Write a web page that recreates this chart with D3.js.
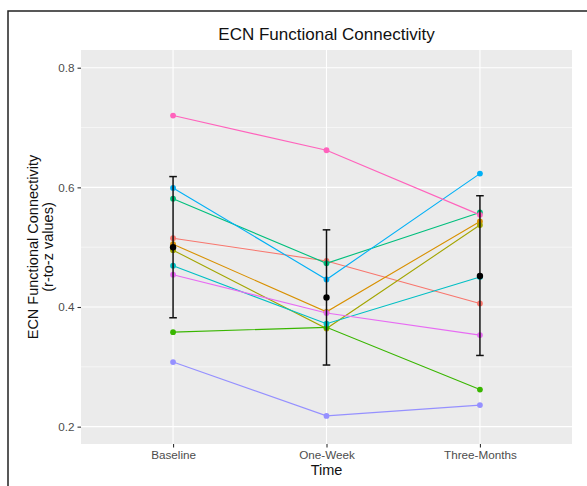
<!DOCTYPE html>
<html>
<head>
<meta charset="utf-8">
<script src="https://cdn.jsdelivr.net/npm/d3@7"></script>
<style>
  html, body { margin: 0; background: #fff; overflow: hidden; }
  svg { display: block; font-family: "Liberation Sans", Arial, sans-serif; }
</style>
</head>
<body>
<div id="chart"></div>
<script>
// timepoints on the x axis
var times = ["Baseline", "One-Week", "Three-Months"];

// one row per subject, values at Baseline / One-Week / Three-Months
var subjects = ["s1", "s2", "s3", "s4", "s5", "s6", "s7", "s8", "s9", "s10"];
var subjectColors = ["#F8766D", "#D89000", "#A3A500", "#39B600", "#00BF7D",
                     "#00BFC4", "#00B0F6", "#9590FF", "#E76BF3", "#FF62BC"];
var s1 = [0.515, 0.477, 0.406];
var s2 = [0.505, 0.392, 0.543];
var s3 = [0.495, 0.364, 0.537];
var s4 = [0.358, 0.366, 0.262];
var s5 = [0.581, 0.473, 0.558];
var s6 = [0.469, 0.372, 0.450];
var s7 = [0.599, 0.446, 0.623];
var s8 = [0.308, 0.218, 0.236];
var s9 = [0.454, 0.390, 0.353];
var s10 = [0.720, 0.662, 0.554];
var subjectValues = [s1, s2, s3, s4, s5, s6, s7, s8, s9, s10];

// group mean and error bar ends
var meanValues = [0.500, 0.416, 0.452];
var errLow = [0.382, 0.303, 0.319];
var errHigh = [0.618, 0.529, 0.586];

var yTicks = [0.2, 0.4, 0.6, 0.8];
var yMinor = [0.3, 0.5, 0.7];

var W = 587, H = 486;
var panel = { left: 81, right: 572, top: 50, bottom: 444 };

var svg = d3.select("#chart").append("svg")
  .attr("width", W)
  .attr("height", H);

// outer frame of the figure (only top and left edges are inside the view)
svg.append("path")
  .attr("d", "M8," + H + "V11H" + W)
  .attr("fill", "none")
  .attr("stroke", "#222")
  .attr("stroke-width", 1.5);

// scales: discrete x with ggplot-style 0.6 expansion
var step = (panel.right - panel.left) / (times.length - 1 + 1.2);
var x = d3.scalePoint()
  .domain(times)
  .range([panel.left + 0.6 * step, panel.right - 0.6 * step]);
var y = d3.scaleLinear()
  .domain([0.171, 0.8296])
  .range([panel.bottom, panel.top]);

// panel background
svg.append("rect")
  .attr("x", panel.left).attr("y", panel.top)
  .attr("width", panel.right - panel.left)
  .attr("height", panel.bottom - panel.top)
  .attr("fill", "#EBEBEB");

// grid
svg.append("g").selectAll("line").data(yMinor).enter().append("line")
  .attr("x1", panel.left).attr("x2", panel.right)
  .attr("y1", function (d) { return y(d); })
  .attr("y2", function (d) { return y(d); })
  .attr("stroke", "#fff").attr("stroke-width", 0.55);
svg.append("g").selectAll("line").data(yTicks).enter().append("line")
  .attr("x1", panel.left).attr("x2", panel.right)
  .attr("y1", function (d) { return y(d); })
  .attr("y2", function (d) { return y(d); })
  .attr("stroke", "#fff").attr("stroke-width", 1.1);
svg.append("g").selectAll("line").data(times).enter().append("line")
  .attr("x1", function (d) { return x(d); })
  .attr("x2", function (d) { return x(d); })
  .attr("y1", panel.top).attr("y2", panel.bottom)
  .attr("stroke", "#fff").attr("stroke-width", 1.1);

// axes
var yAxis = svg.append("g")
  .attr("transform", "translate(" + panel.left + ",0)")
  .call(d3.axisLeft(y).tickValues(yTicks).tickFormat(d3.format(".1f")).tickSize(3.5).tickPadding(3));
var xAxis = svg.append("g")
  .attr("transform", "translate(0," + panel.bottom + ")")
  .call(d3.axisBottom(x).tickSize(3.5).tickPadding(3));
[yAxis, xAxis].forEach(function (a) {
  a.select(".domain").remove();
  a.selectAll(".tick line").attr("stroke", "#333").attr("stroke-width", 1.1);
  a.selectAll(".tick text")
    .attr("fill", "#4D4D4D")
    .style("font-size", "11.7px")
    .style("font-family", "Liberation Sans, Arial, sans-serif");
});

// subject lines
var line = d3.line()
  .x(function (d, i) { return x(times[i]); })
  .y(function (d) { return y(d); });

svg.append("g").selectAll("path").data(subjectValues).enter().append("path")
  .attr("d", line)
  .attr("fill", "none")
  .attr("stroke", function (d, i) { return subjectColors[i]; })
  .attr("stroke-width", 1.1);

// subject points
subjectValues.forEach(function (vals, i) {
  svg.append("g").selectAll("circle").data(vals).enter().append("circle")
    .attr("cx", function (d, j) { return x(times[j]); })
    .attr("cy", function (d) { return y(d); })
    .attr("r", 2.9)
    .attr("fill", subjectColors[i]);
});

// error bars
var eb = svg.append("g").attr("stroke", "#111").attr("stroke-width", 1.5);
times.forEach(function (t, i) {
  eb.append("line")
    .attr("x1", x(t)).attr("x2", x(t))
    .attr("y1", y(errLow[i])).attr("y2", y(errHigh[i]));
  eb.append("line")
    .attr("x1", x(t) - 3.8).attr("x2", x(t) + 3.8)
    .attr("y1", y(errLow[i])).attr("y2", y(errLow[i]));
  eb.append("line")
    .attr("x1", x(t) - 3.8).attr("x2", x(t) + 3.8)
    .attr("y1", y(errHigh[i])).attr("y2", y(errHigh[i]));
});

// mean points
svg.append("g").selectAll("circle").data(meanValues).enter().append("circle")
  .attr("cx", function (d, i) { return x(times[i]); })
  .attr("cy", function (d) { return y(d); })
  .attr("r", 3.2)
  .attr("fill", "#000");

// titles
var midX = (panel.left + panel.right) / 2;
svg.append("text")
  .attr("x", midX).attr("y", 39.5)
  .attr("text-anchor", "middle")
  .attr("fill", "#111")
  .style("font-size", "17px")
  .text("ECN Functional Connectivity");

svg.append("text")
  .attr("x", midX).attr("y", 475)
  .attr("text-anchor", "middle")
  .attr("fill", "#111")
  .style("font-size", "14.5px")
  .text("Time");

var midY = (panel.top + panel.bottom) / 2;
var yTitle = svg.append("text")
  .attr("transform", "translate(38," + midY + ") rotate(-90)")
  .attr("text-anchor", "middle")
  .attr("fill", "#111")
  .style("font-size", "14.5px");
yTitle.append("tspan").attr("x", 0).attr("y", 0).text("ECN Functional Connectivity");
yTitle.append("tspan").attr("x", 0).attr("y", 15).text("(r-to-z values)");
</script>
</body>
</html>
